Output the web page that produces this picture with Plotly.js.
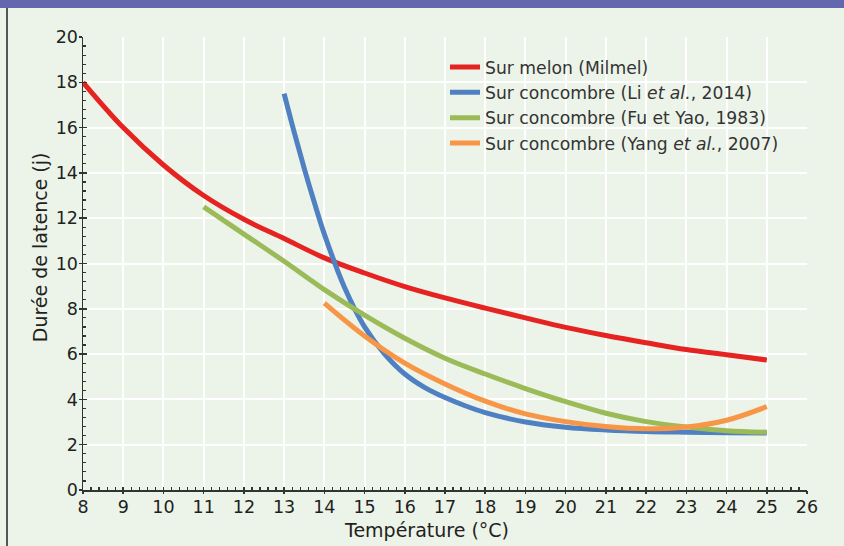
<!DOCTYPE html>
<html>
<head>
<meta charset="utf-8">
<script src="https://cdn.plot.ly/plotly-3.0.1.min.js"></script>
<style>
  html, body { margin: 0; padding: 0; background: #ecf3e9; }
  #wrap { position: relative; width: 844px; height: 546px; overflow: hidden; }
  #chart { position: absolute; left: 0; top: 0; width: 844px; height: 546px; }
  #band { position: absolute; left: 0; top: 0; width: 844px; height: 8px; background: #6368ae; z-index: 5; }
  #edge { position: absolute; left: 6px; top: 8px; width: 2px; height: 538px; background: #555; z-index: 5; }
</style>
</head>
<body>
<div id="wrap">
  <div id="chart"></div>
  <div id="band"></div>
  <div id="edge"></div>
</div>
<script>
// Data
const seriesNames = [
  "Sur melon (Milmel)",
  "Sur concombre (Li <i>et al.</i>, 2014)",
  "Sur concombre (Fu et Yao, 1983)",
  "Sur concombre (Yang <i>et al.</i>, 2007)"
];
const tempMelon = [8, 9, 10, 11, 12, 13, 14, 15, 16, 17, 18, 19, 20, 21, 22, 23, 24, 25];
const latMelon  = [18, 16.0, 14.35, 13.0, 11.95, 11.1, 10.25, 9.58, 8.98, 8.48, 8.03, 7.6, 7.18, 6.82, 6.5, 6.2, 5.97, 5.74];

const tempLi = [13, 13.25, 13.5, 13.75, 14, 14.5, 15, 15.5, 16, 16.5, 17, 17.5, 18, 19, 20, 21, 22, 23, 24, 25];
const latLi  = [17.5, 15.8, 14.2, 12.7, 11.3, 8.95, 7.2, 6.0, 5.12, 4.52, 4.08, 3.72, 3.42, 3.0, 2.77, 2.65, 2.58, 2.55, 2.53, 2.52];

const tempFu = [11, 12, 13, 14, 15, 16, 17, 18, 19, 20, 21, 22, 23, 24, 25];
const latFu  = [12.5, 11.3, 10.1, 8.85, 7.72, 6.7, 5.82, 5.12, 4.48, 3.9, 3.39, 3.02, 2.78, 2.62, 2.55];

const tempYang = [14, 15, 16, 17, 18, 19, 20, 21, 22, 23, 24, 25];
const latYang  = [8.25, 6.8, 5.6, 4.68, 3.92, 3.36, 3.02, 2.8, 2.7, 2.78, 3.08, 3.68];

const colors = ["#e52421", "#4f81c2", "#9bbb59", "#f79646"];

const xTitle = "Température (°C)";
const yTitle = "Durée de latence (j)";

const FONT = "'DejaVu Sans', 'Noto Sans', sans-serif";
const TXT = "#231f20";

function tr(x, y, i) {
  return {
    x: x, y: y, name: seriesNames[i], type: "scatter", mode: "lines",
    line: { color: colors[i], width: 5, shape: "spline", smoothing: 1 },
    hoverinfo: "skip"
  };
}

const traces = [
  tr(tempMelon, latMelon, 0),
  tr(tempLi, latLi, 1),
  tr(tempFu, latFu, 2),
  tr(tempYang, latYang, 3),
  { x: tempMelon, y: latMelon, xaxis: "x2", yaxis: "y2", type: "scatter", mode: "lines",
    line: { width: 0 }, opacity: 0, showlegend: false, hoverinfo: "skip" }
];

const layout = {
  width: 844, height: 546,
  paper_bgcolor: "#ecf3e9", plot_bgcolor: "#ecf3e9",
  margin: { l: 83, r: 37, t: 37, b: 56 },
  font: { family: FONT, color: TXT, size: 17 },
  showlegend: true,
  legend: {
    x: 0.5, xanchor: "left", y: 0.973, yanchor: "top",
    bgcolor: "rgba(0,0,0,0)", borderwidth: 0,
    font: { family: FONT, size: 17.2, color: "#333" },
    itemwidth: 30, tracegroupgap: 0
  },
  xaxis: {
    range: [8, 26], dtick: 1, tick0: 8, showline: true, linecolor: "#333", linewidth: 1.5, zeroline: false,
    ticks: "inside", ticklen: 3, tickwidth: 1.5, tickcolor: "#333",
    minor: { dtick: 0.2, tick0: 8, ticks: "inside", ticklen: 3, tickwidth: 1.2, tickcolor: "#333", showgrid: false },
    showgrid: true, gridcolor: "#ffffff", gridwidth: 2,
    tickfont: { size: 17.5, family: FONT, color: TXT },
    fixedrange: true
  },
  yaxis: {
    range: [0, 20], dtick: 2, tick0: 0, showline: true, linecolor: "#333", linewidth: 1.5, zeroline: false,
    ticks: "inside", ticklen: 4, tickwidth: 1.5, tickcolor: "#333",
    minor: { dtick: 0.4, tick0: 0, ticks: "inside", ticklen: 3, tickwidth: 1.2, tickcolor: "#333", showgrid: false },
    showgrid: true, gridcolor: "#ffffff", gridwidth: 2,
    tickfont: { size: 17.5, family: FONT, color: TXT },
    fixedrange: true
  },
  xaxis2: {
    overlaying: "x", anchor: "y2", range: [8, 26], dtick: 1, tick0: 8,
    showline: false, showgrid: false, zeroline: false, showticklabels: false,
    ticks: "outside", ticklen: 3, tickwidth: 1.5, tickcolor: "#333",
    fixedrange: true
  },
  yaxis2: {
    overlaying: "y", anchor: "x2", range: [0, 20], dtick: 2, tick0: 0,
    showline: false, showgrid: false, zeroline: false, showticklabels: false,
    ticks: "outside", ticklen: 3, tickwidth: 1.5, tickcolor: "#333",
    fixedrange: true
  },
  annotations: [
    { text: xTitle, xref: "paper", yref: "paper", x: 0.474, y: -0.088, xanchor: "center", yanchor: "middle",
      showarrow: false, font: { size: 19, family: FONT, color: TXT } },
    { text: yTitle, xref: "paper", yref: "paper", x: -0.06, y: 0.535, xanchor: "center", yanchor: "middle",
      textangle: -90, showarrow: false, font: { size: 19, family: FONT, color: TXT } }
  ]
};

Plotly.newPlot("chart", traces, layout, { displayModeBar: false, staticPlot: true });
</script>
</body>
</html>
